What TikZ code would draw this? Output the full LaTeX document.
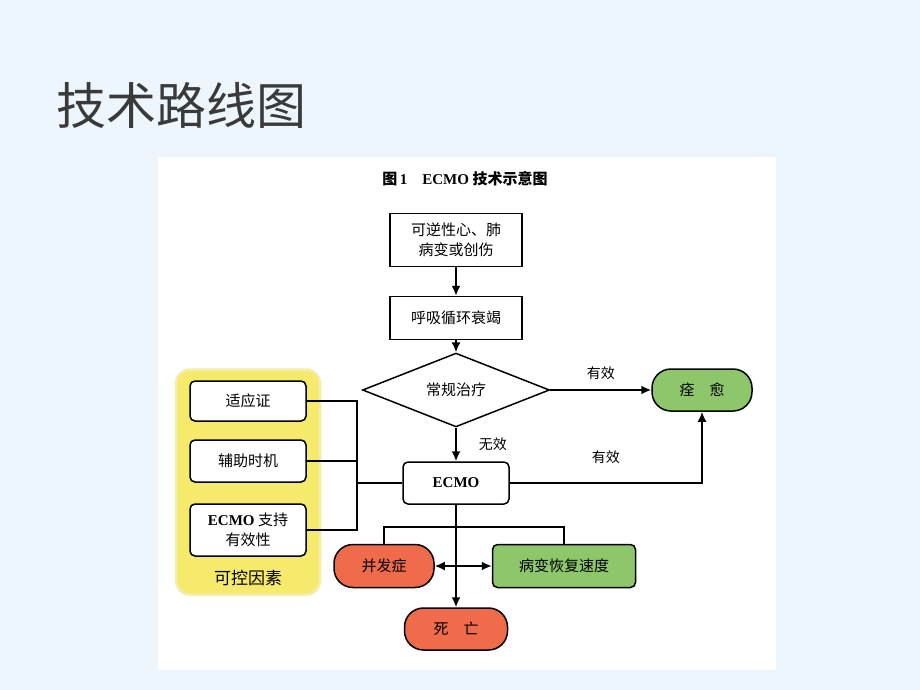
\documentclass[tikz,border=0pt]{standalone}
\usepackage{fontspec}
\setmainfont{Liberation Serif}
\newfontfamily\cjk{Noto Sans CJK SC}
\usetikzlibrary{shapes.geometric}
\usetikzlibrary{positioning}
\usetikzlibrary{arrows.meta}
\definecolor{bgblue}{HTML}{EEF6FD}
\definecolor{titlegray}{HTML}{3A3A3A}
\definecolor{okgreen}{HTML}{8DC66B}
\definecolor{badred}{HTML}{EF6B4B}
\definecolor{ctrlyel}{HTML}{F6EA6C}
\definecolor{ctrledge}{HTML}{F3EDA8}
\tikzset{
    mybox/.style = {rectangle, draw=black, line width=1.5pt, fill=white, align=center, inner sep=0pt, font=\cjk\fontsize{15}{20}\selectfont},
    myboxr/.style = {mybox, rounded corners=5pt},
    myboxg/.style = {myboxr, fill=okgreen},
    mypillg/.style = {mybox, rounded corners=19pt, fill=okgreen},
    mypillr/.style = {mybox, rounded corners=19pt, fill=badred},
    mydiam/.style = {diamond, draw=black, line width=1.5pt, fill=white, inner sep=0pt, font=\cjk\fontsize{15}{20}\selectfont},
    ctrlbox/.style = {rectangle, rounded corners=14pt, fill=ctrlyel, draw=ctrledge, line width=2.5pt},
    lbl/.style = {inner sep=0pt, font=\cjk\fontsize{14}{16}\selectfont},
    edgen/.style = {-{Latex[length=10pt,width=9pt]}, line width=1.7pt},
    edgenb/.style = {{Latex[length=10pt,width=9pt]}-{Latex[length=10pt,width=9pt]}, line width=1.7pt},
    linen/.style = {line width=1.5pt}
}
\newcommand{\EC}{{\rmfamily\bfseries ECMO}}

\begin{document}
\begin{tikzpicture}[x=1pt,y=-1pt]
\fill[bgblue] (0,0) rectangle (920,690);
\useasboundingbox (0,0) rectangle (920,690);
\fill[white] (158,157) rectangle (776,670);
\node[anchor=west, inner sep=0pt, text=titlegray, font=\cjk\fontsize{50}{50}\selectfont] at (56,105) (title) {技术路线图};
\node[inner sep=0pt, font=\fontsize{15}{18}\selectfont] at (465,179) (caption) {{\cjk\bfseries 图}\,\textbf{1}\quad\EC\ {\cjk\bfseries 技术示意图}};
% main column
\node[mybox, minimum width=132, minimum height=53] at (456,240) (lesion) {可逆性心、肺\\病变或创伤};
\node[mybox, minimum width=132, minimum height=43] at (456,318) (fail) {呼吸循环衰竭};
\node[mydiam, minimum width=187, minimum height=61] at (456,390) (conv) {常规治疗};
\node[mypillg, minimum width=100, minimum height=42] at (702,390) (cure) {痊\quad 愈};
\node[myboxr, minimum width=106, minimum height=42] at (456,483) (ecmo) {\EC};
\node[mypillr, minimum width=100, minimum height=43] at (384,566) (comp) {并发症};
\node[myboxg, minimum width=143, minimum height=43] at (564,566) (recov) {病变恢复速度};
\node[mypillr, minimum width=103, minimum height=42] at (456,629) (death) {死\quad 亡};
% controllable factors
\node[ctrlbox, minimum width=144, minimum height=225] at (248,482) (ctrl) {};
\node[myboxr, minimum width=116, minimum height=40] at (248,401) (indic) {适应证};
\node[myboxr, minimum width=116, minimum height=42] at (248,461) (timing) {辅助时机};
\node[myboxr, minimum width=116, minimum height=52] at (248,530) (effect) {\EC\ 支持\\有效性};
\node[lbl, font=\cjk\fontsize{17}{20}\selectfont] at (248,578) (ctrllbl) {可控因素};
\coordinate (brk) at (357,483);
\coordinate (fork) at (456,527);
%
\draw[edgen] (lesion) -- (fail);
\draw[edgen] (fail) -- (conv);
\draw[edgen] (conv) -- node[lbl, above=9pt] {有效} (cure);
\draw[edgen] (conv) -- node[lbl, right=22pt] {无效} (ecmo);
\draw[edgen] (ecmo) -| node[lbl, pos=0.25, above=18pt] {有效} (cure);
\draw[linen] (indic.east) -| (brk) |- (effect.east);
\draw[linen] (timing) -- (timing -| brk);
\draw[linen] (brk) -- (ecmo);
\draw[linen] (comp.north) |- (fork) -| (recov.north);
\draw[edgen] (ecmo) -- (death);
\draw[edgenb] (comp) -- (recov);

\end{tikzpicture}
\end{document}
